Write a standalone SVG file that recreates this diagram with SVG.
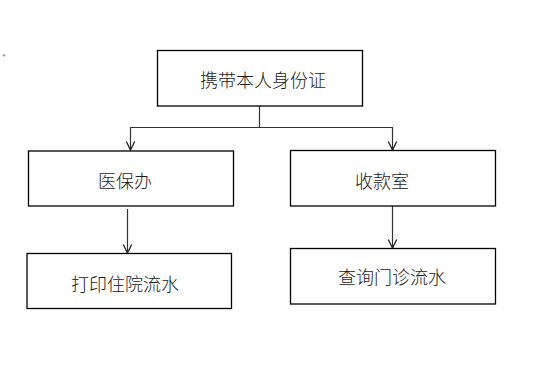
<svg xmlns="http://www.w3.org/2000/svg" width="556" height="368" viewBox="0 0 556 368">
<style>
.box{fill:#ffffff;stroke:#000000;stroke-width:1.3}
.lbl{font-family:"Noto Sans CJK SC","Liberation Serif",serif;font-size:18px;font-weight:300;fill:#1a1a1a;text-anchor:middle;dominant-baseline:central}
.con{fill:none;stroke:#333333;stroke-width:1.2}
</style>
<defs>
<marker id="arr" markerWidth="12" markerHeight="12" refX="11" refY="6" orient="auto" markerUnits="userSpaceOnUse" viewBox="0 0 12 12" overflow="visible">
<path d="M2.5,1.8 L11,6 L2.5,10.2" fill="none" stroke="#222222" stroke-width="1.3"/>
</marker>
</defs>
<rect width="556" height="368" fill="#ffffff"/>
<path d="M2,54.5 L6,54.5 L4,57 Z" fill="#9a9a9a"/>
<g id="connectors">
<path class="con" d="M259.5,106 V127.5 H130.5 V150" marker-end="url(#arr)"/>
<path class="con" d="M259.5,127.5 H392.5 V150" marker-end="url(#arr)"/>
<path class="con" d="M127.5,209 V253" marker-end="url(#arr)"/>
<path class="con" d="M392.5,206 V248" marker-end="url(#arr)"/>
</g>
<g id="node-top">
<rect class="box" x="157.5" y="50.5" width="205" height="55.5"/>
<text class="lbl" x="263" y="78.5">携带本人身份证</text>
</g>
<g id="node-yibaoban">
<rect class="box" x="28.5" y="151" width="205" height="55"/>
<text class="lbl" x="125" y="180">医保办</text>
</g>
<g id="node-shoukuanshi">
<rect class="box" x="290.5" y="150.5" width="205" height="55.5"/>
<text class="lbl" x="382" y="180">收款室</text>
</g>
<g id="node-zhuyuan">
<rect class="box" x="27" y="253.5" width="204.5" height="55"/>
<text class="lbl" x="125" y="282.5">打印住院流水</text>
</g>
<g id="node-menzhen">
<rect class="box" x="290.5" y="248.5" width="205" height="55.5"/>
<text class="lbl" x="392" y="276">查询门诊流水</text>
</g>
</svg>
